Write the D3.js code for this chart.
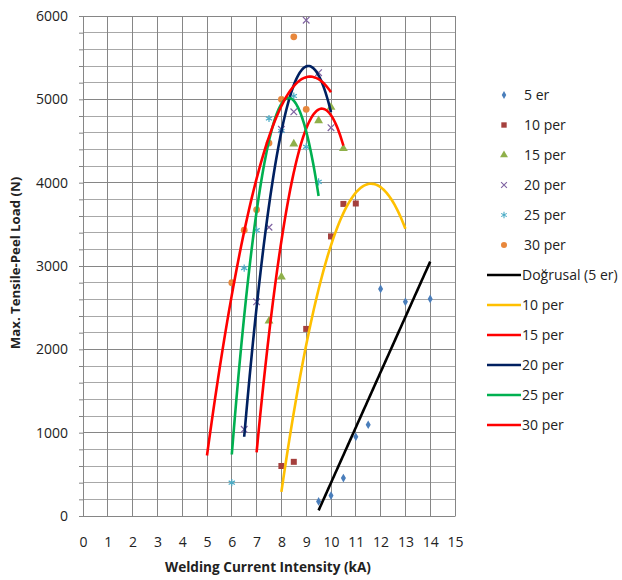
<!DOCTYPE html>
<html>
<head>
<meta charset="utf-8">
<script src="https://cdn.jsdelivr.net/npm/d3@7"></script>
<style>
  body { margin: 0; background: #fff; }
  text { font-family: "Open Sans", "Noto Sans", sans-serif; fill: #222; }
</style>
</head>
<body>
<div id="chart"></div>
<script>
// Max tensile-peel load vs welding current, with trendlines
const xTicks = d3.range(0, 16);
const yTicks = d3.range(0, 6001, 1000);

const x5er = [9.5, 10, 10.5, 11, 11.5, 12, 13, 14];
const y5er = [175, 245, 455, 950, 1095, 2725, 2570, 2605];
const x10per = [8, 8.5, 9, 10, 10.5, 11];
const y10per = [600, 650, 2245, 3355, 3745, 3750];
const x15per = [7.5, 8, 8.5, 9.5, 10, 10.5];
const y15per = [2340, 2870, 4465, 4745, 4905, 4410];
const x20per = [6.5, 7, 7.5, 8, 8.5, 9, 9.5, 10];
const y20per = [1040, 2570, 3465, 4640, 4850, 5950, 5320, 4660];
const x25per = [6, 6.5, 7, 7.5, 8, 8.5, 9, 9.5];
const y25per = [400, 2975, 3430, 4770, 4620, 5040, 4430, 4010];
const x30per = [6, 6.5, 7, 7.5, 8, 8.5, 9];
const y30per = [2800, 3430, 3675, 4475, 5000, 5750, 4880];

const seriesNames = ["5 er", "10 per", "15 per", "20 per", "25 per", "30 per"];
const trendNames = ["Doğrusal (5 er)", "10 per", "15 per", "20 per", "25 per", "30 per"];
// x span drawn by each trendline (includes Excel forecast)
const trendRanges = [[9.5, 14], [8, 13], [7, 10.5], [6.5, 10], [6, 9.5], [5, 10]];

const xsAll = [x5er, x10per, x15per, x20per, x25per, x30per];
const ysAll = [y5er, y10per, y15per, y20per, y25per, y30per];
const markerColors = ["#4a7ebb", "#a5403d", "#8fb04a", "#8064a2", "#4bacc6", "#e8873c"];
const markerTypes = [d3.symbolDiamond, d3.symbolSquare, d3.symbolTriangle, d3.symbolTimes, d3.symbolAsterisk, d3.symbolCircle];
const markerSizes = [22, 36, 34, 30, 36, 36];
const strokeMarker = [false, false, false, true, true, false];
const trendColors = ["#000000", "#ffc000", "#ff0000", "#002060", "#00b050", "#ff0000"];

const W = 622, H = 580;
const margin = {top: 16, right: 167, bottom: 64, left: 83};
const svg = d3.select("#chart").append("svg").attr("width", W).attr("height", H);

const x = d3.scaleLinear().domain([0, 15]).range([margin.left, W - margin.right]);
const y = d3.scaleLinear().domain([0, 6000]).range([H - margin.bottom, margin.top]);

// gridlines
const grid = svg.append("g").attr("shape-rendering", "crispEdges");
grid.selectAll(".hmin").data(d3.range(0, 6001, 200)).join("line")
  .attr("x1", x(0)).attr("x2", x(15)).attr("y1", d => y(d)).attr("y2", d => y(d))
  .attr("stroke", d => d % 1000 === 0 ? "#868686" : "#a8a8a8");
grid.selectAll(".v").data(xTicks).join("line")
  .attr("x1", d => x(d)).attr("x2", d => x(d)).attr("y1", y(0)).attr("y2", y(6000))
  .attr("stroke", "#868686");

// axes
const yAxis = svg.append("g").attr("transform", `translate(${x(0)},0)`)
  .call(d3.axisLeft(y).tickValues(d3.range(0, 6001, 200)).tickSize(4)
    .tickFormat(d => d % 1000 === 0 ? d : ""));
yAxis.select(".domain").attr("stroke", "#868686");
yAxis.selectAll(".tick line").attr("stroke", "#868686");
yAxis.selectAll("text").attr("font-size", 14).attr("x", -15).attr("fill", "#222")
  .style("font-family", "Open Sans");

const xAxis = svg.append("g").attr("transform", `translate(0,${y(0)})`)
  .call(d3.axisBottom(x).tickValues(xTicks).tickSize(0));
xAxis.select(".domain").attr("stroke", "#868686");
xAxis.selectAll("text").attr("font-size", 14).attr("dy", "2.0em").attr("fill", "#222")
  .style("font-family", "Open Sans");

svg.append("text").attr("x", x(7.5) - 1).attr("y", 572).attr("text-anchor", "middle")
  .attr("font-size", 13.6).attr("font-weight", "bold").text("Welding Current Intensity (kA)");
svg.append("text").attr("transform", `translate(20,${y(3000) - 3}) rotate(-90)`)
  .attr("text-anchor", "middle").attr("font-size", 13.2).attr("font-weight", "bold")
  .text("Max. Tensile-Peel Load (N)");

// markers
seriesNames.forEach((name, i) => {
  const pts = xsAll[i].map((v, j) => [v, ysAll[i][j]]);
  svg.append("g").selectAll("path").data(pts).join("path")
    .attr("transform", d => `translate(${x(d[0])},${y(d[1])})`)
    .attr("d", d3.symbol(markerTypes[i], markerSizes[i]))
    .attr("fill", strokeMarker[i] ? "none" : markerColors[i])
    .attr("stroke", strokeMarker[i] ? markerColors[i] : "none")
    .attr("stroke-width", 1.2);
});

// least squares fits (linear for 5 er, order-2 polynomial for the rest)
function fitPoly(xs, ys, order) {
  const n = order + 1;
  const A = d3.range(n).map(r => d3.range(n).map(c => d3.sum(xs, v => Math.pow(v, r + c))));
  const b = d3.range(n).map(r => d3.sum(xs, (v, k) => Math.pow(v, r) * ys[k]));
  for (let i = 0; i < n; i++) {
    for (let k = i + 1; k < n; k++) {
      const f = A[k][i] / A[i][i];
      for (let j = i; j < n; j++) A[k][j] -= f * A[i][j];
      b[k] -= f * b[i];
    }
  }
  const coef = new Array(n).fill(0);
  for (let i = n - 1; i >= 0; i--) {
    let s = b[i];
    for (let j = i + 1; j < n; j++) s -= A[i][j] * coef[j];
    coef[i] = s / A[i][i];
  }
  return v => coef.reduce((acc, c, p) => acc + c * Math.pow(v, p), 0);
}

const line = d3.line().x(d => x(d[0])).y(d => y(d[1]));
trendNames.forEach((name, i) => {
  const f = fitPoly(xsAll[i], ysAll[i], i === 0 ? 1 : 2);
  const [a, b] = trendRanges[i];
  const pts = d3.range(a, b + 0.001, (b - a) / 80).map(v => [v, f(v)]);
  svg.append("path").datum(pts).attr("fill", "none").attr("stroke", trendColors[i])
    .attr("stroke-width", 2.6).attr("d", line);
});

// legend
const lg = svg.append("g");
seriesNames.forEach((name, i) => {
  const yy = 95 + i * 30;
  lg.append("path").attr("transform", `translate(504,${yy})`)
    .attr("d", d3.symbol(markerTypes[i], markerSizes[i] * 0.8))
    .attr("fill", strokeMarker[i] ? "none" : markerColors[i])
    .attr("stroke", strokeMarker[i] ? markerColors[i] : "none").attr("stroke-width", 1.1);
  lg.append("text").attr("x", 524).attr("y", yy).attr("dy", "0.35em").attr("font-size", 14).text(name);
});
trendNames.forEach((name, i) => {
  const yy = 275 + i * 30;
  lg.append("line").attr("x1", 487).attr("x2", 521).attr("y1", yy).attr("y2", yy)
    .attr("stroke", trendColors[i]).attr("stroke-width", 2.6);
  lg.append("text").attr("x", 522).attr("y", yy).attr("dy", "0.35em").attr("font-size", 14).text(name);
});
</script>
</body>
</html>
